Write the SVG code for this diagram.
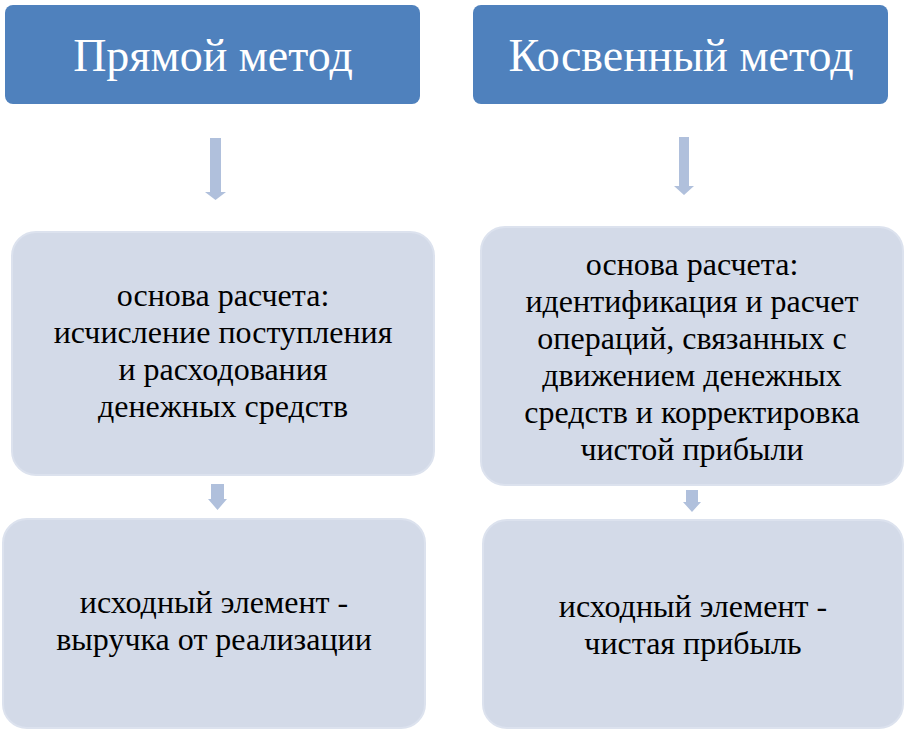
<svg xmlns="http://www.w3.org/2000/svg" width="907" height="730" viewBox="0 0 907 730">
<style>
.h{fill:#4F81BD}
.b{fill:#D3DAE8;stroke:#DCE2EE;stroke-width:2}
.ht{font-family:"Liberation Serif",serif;font-size:46px;fill:#fff;text-anchor:middle}
.t{font-family:"Liberation Serif",serif;font-size:32px;fill:#000;text-anchor:middle}
.a{fill:#B0C0DC}
</style>
<rect width="907" height="730" fill="#fff"/>
<g id="n1"><rect class="h" x="5" y="5" width="415" height="99" rx="8"/><text class="ht" x="213" y="71">Прямой метод</text></g>
<g id="n2"><rect class="h" x="473" y="5" width="415" height="99" rx="8"/><text class="ht" x="681" y="71">Косвенный метод</text></g>
<g id="n3"><rect class="b" x="12" y="232" width="422" height="243" rx="24"/>
<text class="t" x="223" y="306">основа расчета:</text><text class="t" x="223" y="343">исчисление поступления</text><text class="t" x="223" y="380">и расходования</text><text class="t" x="223" y="417">денежных средств</text></g>
<g id="n4"><rect class="b" x="3" y="519" width="422" height="209" rx="24"/>
<text class="t" x="214" y="613">исходный элемент -</text><text class="t" x="214" y="650">выручка от реализации</text></g>
<g id="n5"><rect class="b" x="481" y="227" width="422" height="258" rx="24"/>
<text class="t" x="692" y="275">основа расчета:</text><text class="t" x="692" y="312">идентификация и расчет</text><text class="t" x="692" y="349">операций, связанных с</text><text class="t" x="692" y="386">движением денежных</text><text class="t" x="692" y="423">средств и корректировка</text><text class="t" x="692" y="460">чистой прибыли</text></g>
<g id="n6"><rect class="b" x="483" y="520" width="420" height="208" rx="24"/>
<text class="t" x="693" y="617">исходный элемент -</text><text class="t" x="693" y="654">чистая прибыль</text></g>
<g id="connectors">
<polygon class="a" points="210,138 221,138 221,192 226,192 215.5,200 205,192 210,192"/>
<polygon class="a" points="679,137 689,137 689,186 694,186 684,195 674,186 679,186"/>
<polygon class="a" points="211,484 224,484 224,499 227,499 217.5,510 208,499 211,499"/>
<polygon class="a" points="686,490 698,490 698,502 701,502 692,512 683,502 686,502"/>
</g>
</svg>
